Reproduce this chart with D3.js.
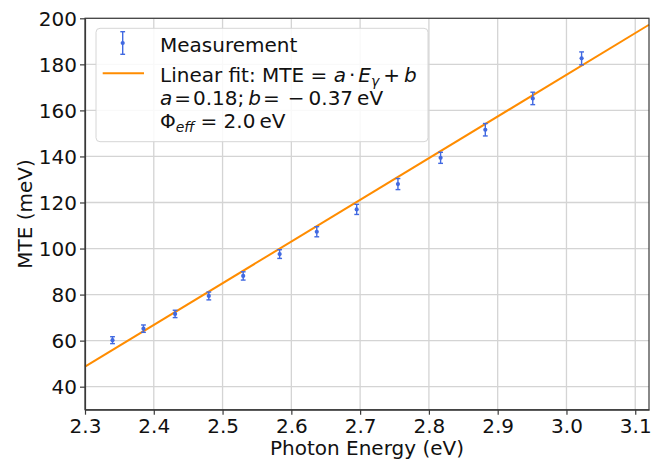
<!DOCTYPE html>
<html>
<head>
<meta charset="utf-8">
<script src="https://cdn.jsdelivr.net/npm/d3@7"></script>
<style>
    body { margin: 0; background: #fff; }
    svg { display: block; font-family: "DejaVu Sans", sans-serif; }
    .axis path, .axis line { stroke: #3a3a3a; stroke-width: 1.2; }
    .axis text { fill: #111; }
    .grid line { stroke: #d4d4d4; stroke-width: 1.3; }
</style>
</head>
<body>
<svg id="chart" width="662" height="461"></svg>
<script>
// Donnees
const photonEnergy = [2.340, 2.385, 2.431, 2.480, 2.530, 2.583, 2.637, 2.695, 2.755, 2.817, 2.882, 2.951, 3.022];
const mteValues = [60.2, 65.2, 71.6, 79.4, 88.1, 97.6, 107.3, 117.0, 128.0, 139.4, 151.6, 165.2, 182.6];
const mteErrors = [1.5, 1.6, 1.6, 1.7, 1.8, 1.9, 2.2, 2.2, 2.4, 2.4, 2.7, 2.7, 2.8];
const fitEnergy = [2.3, 3.12];
const fitMte = [48.7, 197.2];
const xTicks = [2.3, 2.4, 2.5, 2.6, 2.7, 2.8, 2.9, 3.0, 3.1];
const yTicks = [40, 60, 80, 100, 120, 140, 160, 180, 200];

const chartConfig = {
    width: 662,
    height: 461,
    margin: { top: 18.3, right: 13, bottom: 51.3, left: 85 },
    pointColor: "#4169e1",
    fitColor: "#ff8c00"
};

const svg = d3.select("#chart");
const innerWidth = chartConfig.width - chartConfig.margin.left - chartConfig.margin.right;
const innerHeight = chartConfig.height - chartConfig.margin.top - chartConfig.margin.bottom;

const xScale = d3.scaleLinear()
    .domain([2.3, 3.12])
    .range([chartConfig.margin.left, chartConfig.margin.left + innerWidth]);
const yScale = d3.scaleLinear()
    .domain([30, 200])
    .range([chartConfig.margin.top + innerHeight, chartConfig.margin.top]);

const points = photonEnergy.map(function(energy, index) {
    return { x: energy, y: mteValues[index], err: mteErrors[index] };
});

// Grille
function drawGrid() {
    const grid = svg.append("g").attr("class", "grid");

    grid.selectAll(".grid-x")
        .data(xTicks)
        .enter()
        .append("line")
        .attr("x1", function(d) { return xScale(d); })
        .attr("x2", function(d) { return xScale(d); })
        .attr("y1", yScale.range()[0])
        .attr("y2", yScale.range()[1]);

    grid.selectAll(".grid-y")
        .data(yTicks)
        .enter()
        .append("line")
        .attr("x1", xScale.range()[0])
        .attr("x2", xScale.range()[1])
        .attr("y1", function(d) { return yScale(d); })
        .attr("y2", function(d) { return yScale(d); });
}

// Droite d'ajustement et points de mesure
function drawFit() {
    const line = d3.line()
        .x(function(d) { return xScale(d[0]); })
        .y(function(d) { return yScale(d[1]); });

    svg.append("path")
        .datum(d3.zip(fitEnergy, fitMte))
        .attr("d", line)
        .attr("fill", "none")
        .attr("stroke", chartConfig.fitColor)
        .attr("stroke-width", 2);
}

function drawErrorbar(group, cx, yTop, yBottom, cy) {
    const cap = 2.4;
    group.append("line")
        .attr("x1", cx).attr("x2", cx)
        .attr("y1", yTop).attr("y2", yBottom);
    group.append("line")
        .attr("x1", cx - cap).attr("x2", cx + cap)
        .attr("y1", yTop).attr("y2", yTop);
    group.append("line")
        .attr("x1", cx - cap).attr("x2", cx + cap)
        .attr("y1", yBottom).attr("y2", yBottom);
    group.append("circle")
        .attr("cx", cx)
        .attr("cy", cy)
        .attr("r", 2.1)
        .attr("fill", chartConfig.pointColor)
        .attr("stroke", "none");
}

function drawPoints() {
    const group = svg.append("g")
        .attr("stroke", chartConfig.pointColor)
        .attr("stroke-width", 1.4);

    points.forEach(function(point) {
        drawErrorbar(group,
            xScale(point.x),
            yScale(point.y + point.err),
            yScale(point.y - point.err),
            yScale(point.y));
    });
}

// Axes
function drawAxes() {
    const bottom = chartConfig.margin.top + innerHeight;

    const xAxis = svg.append("g")
        .attr("class", "axis")
        .attr("transform", "translate(0," + bottom + ")")
        .call(d3.axisBottom(xScale).tickValues(xTicks).tickFormat(d3.format(".1f")).tickSize(5).tickPadding(4.5).tickSizeOuter(0))
        .attr("font-size", 20)
        .attr("font-family", "DejaVu Sans, sans-serif");

    xAxis.selectAll(".tick text")
        .attr("dy", null)
        .attr("y", 23.6);

    const yAxis = svg.append("g")
        .attr("class", "axis")
        .attr("transform", "translate(" + chartConfig.margin.left + ",0)")
        .call(d3.axisLeft(yScale).tickValues(yTicks).tickSize(5).tickPadding(3).tickSizeOuter(0))
        .attr("font-size", 20)
        .attr("font-family", "DejaVu Sans, sans-serif");

    yAxis.selectAll(".tick text")
        .attr("dy", null)
        .attr("y", 7.2);

    // cadre complet
    svg.append("rect")
        .attr("x", chartConfig.margin.left)
        .attr("y", chartConfig.margin.top)
        .attr("width", innerWidth)
        .attr("height", innerHeight)
        .attr("fill", "none")
        .attr("stroke", "#3a3a3a")
        .attr("stroke-width", 1.2);

    svg.append("text")
        .attr("x", chartConfig.margin.left + innerWidth / 2)
        .attr("y", 454.5)
        .attr("text-anchor", "middle")
        .attr("font-size", 20)
        .attr("fill", "#111")
        .text("Photon Energy (eV)");

    svg.append("text")
        .attr("transform", "translate(31.5," + (chartConfig.margin.top + innerHeight / 2) + ") rotate(-90)")
        .attr("text-anchor", "middle")
        .attr("font-size", 20)
        .attr("fill", "#111")
        .text("MTE (meV)");
}

// Legende
function addParts(textNode, parts) {
    parts.forEach(function(part) {
        const span = textNode.append("tspan").text(part.t);
        if (part.i) { span.attr("font-style", "italic"); }
        if (part.dx) { span.attr("dx", part.dx); }
        if (part.sub) { span.attr("font-size", 14).attr("dy", 4); }
        if (part.up) { span.attr("dy", -4); }
    });
}

function drawLegend() {
    const legend = svg.append("g").attr("class", "legend");

    legend.append("rect")
        .attr("x", 96)
        .attr("y", 28.3)
        .attr("width", 332)
        .attr("height", 113.4)
        .attr("rx", 4)
        .attr("fill", "#fff")
        .attr("fill-opacity", 0.85)
        .attr("stroke", "#d6d6d6")
        .attr("stroke-width", 1);

    const handle = legend.append("g")
        .attr("stroke", chartConfig.pointColor)
        .attr("stroke-width", 1.4);
    drawErrorbar(handle, 122.7, 31.7, 54.3, 43);

    legend.append("line")
        .attr("x1", 102.7)
        .attr("x2", 144)
        .attr("y1", 73.3)
        .attr("y2", 73.3)
        .attr("stroke", chartConfig.fitColor)
        .attr("stroke-width", 2);

    const textX = 160;
    const rows = [
        { y: 51.7, parts: [{ t: "Measurement" }] },
        { y: 81.7, parts: [
            { t: "Linear fit: MTE = " },
            { t: "a", i: true },
            { t: "\u00b7", dx: 3 },
            { t: "E", i: true, dx: 3 },
            { t: "\u03b3", i: true, sub: true },
            { t: "+", dx: 4, up: true },
            { t: "b", i: true, dx: 4 }
        ] },
        { y: 105, parts: [
            { t: "a", i: true },
            { t: "=", dx: 2 },
            { t: "0.18;", dx: 2 },
            { t: "b", i: true, dx: 4 },
            { t: "=", dx: 2 },
            { t: "\u2212", dx: 8 },
            { t: "0.37", dx: 4 },
            { t: "eV", dx: 4 }
        ] },
        { y: 128.3, parts: [
            { t: "\u03a6" },
            { t: "eff", i: true, sub: true },
            { t: "= 2.0", dx: 6, up: true },
            { t: "eV", dx: 4 }
        ] }
    ];

    rows.forEach(function(row) {
        const textNode = legend.append("text")
            .attr("x", textX)
            .attr("y", row.y)
            .attr("font-size", 20)
            .attr("fill", "#111")
            .attr("xml:space", "preserve");
        addParts(textNode, row.parts);
    });
}

drawGrid();
drawFit();
drawPoints();
drawAxes();
drawLegend();
</script>
</body>
</html>
